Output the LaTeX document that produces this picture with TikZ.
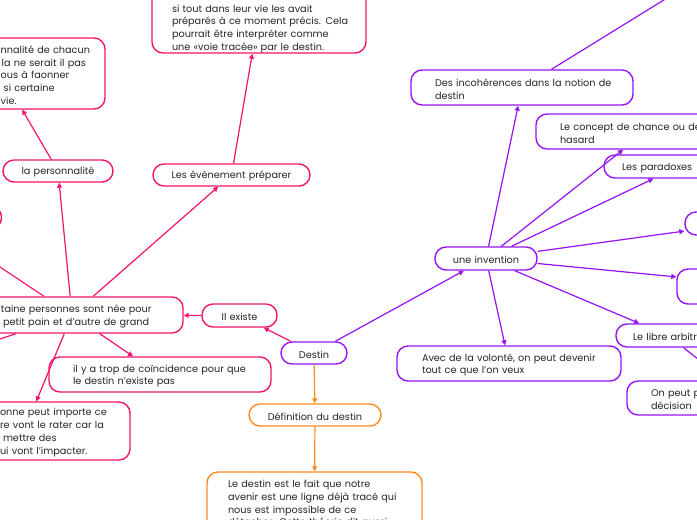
\documentclass[tikz,border=0pt]{standalone}
\usepackage{fontspec}
\setmainfont{Poppins}
\usetikzlibrary{arrows.meta}
\definecolor{mmpink}{RGB}{245,20,110}
\definecolor{mmpurple}{RGB}{150,20,245}
\definecolor{mmorange}{RGB}{255,138,30}
\newcommand{\mmbox}[8]{%
  \pgfmathsetmacro{\mmW}{#5-(#3)}%
  \pgfmathsetmacro{\mmH}{#6-(#4)}%
  \pgfmathsetmacro{\mmTW}{max(0.5,#3+#5-2*(#7))}%
  \pgfmathsetmacro{\mmX}{(#3+#5)/2}%
  \pgfmathsetmacro{\mmY}{(#4+#6)/2}%
  \node[mmnode, minimum width=\mmW pt, minimum height=\mmH pt, text width=\mmTW pt, #1] (#2) at (\mmX,\mmY) {\rule{0pt}{10.5pt}#8};%
}
\begin{document}
\begin{tikzpicture}[x=1pt,y=-1pt,
  mmnode/.style={draw, fill=white, line width=1.4pt, rounded corners=11pt,
    inner xsep=0pt, inner ysep=0pt, align=left, text=black!85,
    font=\fontsize{9.7}{12.7}\selectfont},
  pinkn/.style={draw=mmpink},
  purplen/.style={draw=mmpurple},
  orangen/.style={draw=mmorange},
  conn/.style={line width=1.2pt, -{Triangle[length=5pt,width=5pt]}},
  pinkc/.style={conn, draw=mmpink, fill=mmpink},
  purplec/.style={conn, draw=mmpurple, fill=mmpurple},
  orangec/.style={conn, draw=mmorange, fill=mmorange}]
\fill[white] (0,0) rectangle (697,520);
\useasboundingbox (0,0) rectangle (697,520);
\clip (0,0) rectangle (697,520);

% pink branch
\mmbox{pinkn}{tl}{-103}{38}{105}{109}{1}{\mbox{nnalité de chacun}\\\mbox{\hspace*{1pt}la ne serait il pas}\\\mbox{ous à faonner}\\\mbox{\hspace*{3pt}si certaine}\\\mbox{vie.}}
\mmbox{pinkn,align=center}{pers}{3}{160}{113}{182}{3}{la personnalité}
\mmbox{pinkn,align=center}{evt}{153}{164}{310}{186}{153}{Les événement préparer}
\mmbox{pinkn}{tc}{152}{-24}{366}{53}{172}{\mbox{}\\\mbox{}\\\mbox{si tout dans leur vie les avait}\\\mbox{préparés à ce moment précis. Cela}\\\mbox{pourrait être interpréter comme}\\\mbox{une «voie tracée» par le destin.}}
\mmbox{pinkn}{big}{-39}{297}{183}{333}{1}{\mbox{taine personnes sont née pour}\\\mbox{\hspace*{2pt}petit pain et d’autre de grand}}
\mmbox{pinkn,align=center}{ilex}{202}{304}{277}{327}{202}{Il existe}
\mmbox{pinkn}{coinc}{49}{357}{271}{392}{73}{\mbox{il y a trop de coïncidence pour que}\\\mbox{le destin n’existe pas}}
\mmbox{pinkn}{bl}{-82}{402}{130}{460}{0}{\mbox{onne peut importe ce}\\\mbox{re vont le rater car la}\\\mbox{\hspace*{3pt}mettre des}\\\mbox{ui vont l’impacter.}}
\mmbox{pinkn}{lp}{-40}{206}{1.5}{229}{-40}{}

% purple branch
\mmbox{purplen,align=center}{destin}{281}{342}{347}{364}{281}{Destin}
\mmbox{purplen,align=center}{inv}{435}{247}{537}{270}{435}{une invention}
\mmbox{purplen}{incoh}{411}{70}{633}{105}{435}{\mbox{Des incohérences dans la notion de}\\\mbox{destin}}
\mmbox{purplen}{chance}{536}{114}{756}{149}{560}{\mbox{Le concept de chance ou de}\\\mbox{hasard}}
\mmbox{purplen}{parad}{604}{155}{754}{178}{622}{\mbox{Les paradoxes}}
\mmbox{purplen}{nA}{685}{212}{793}{235}{700}{}
\mmbox{purplen}{nB}{677}{269}{875}{304}{700}{}
\mmbox{purplen}{libre}{616}{324}{720}{347}{633}{\mbox{Le libre arbitre}}
\mmbox{purplen}{vol}{397}{346}{621}{381}{422}{\mbox{Avec de la volonté, on peut devenir}\\\mbox{tout ce que l’on veux}}
\mmbox{purplen}{onpeut}{627}{381}{790}{415}{651}{\mbox{On peut prendre}\\\mbox{décision}}

% orange branch
\mmbox{orangen,align=center}{def}{249}{404}{381}{426}{249}{Définition du destin}
\mmbox{orangen}{ldest}{207}{472}{422}{531}{228}{\mbox{Le destin est le fait que notre}\\\mbox{avenir est une ligne déjà tracé qui}\\\mbox{nous est impossible de ce}\\\mbox{détacher. Cette théorie dit aussi}}

\coordinate (offA) at (740,-47);
\coordinate (offB) at (740,392);
\coordinate (offC) at (-60,227);
\coordinate (offD) at (-60,359);

% connectors
\draw[pinkc] (destin) -- (ilex);
\draw[pinkc] (ilex) -- (big);
\draw[pinkc] (big) -- (evt);
\draw[pinkc] (big) -- (pers);
\draw[pinkc] (pers) -- (tl);
\draw[pinkc] (evt) -- (tc);
\draw[pinkc] (big) -- (coinc);
\draw[pinkc] (big) -- (bl);
\draw[pinkc] (big) -- (offC);
\draw[pinkc] (big) -- (offD);

\draw[purplec] (destin) -- (inv);
\draw[purplec] (inv) -- (incoh);
\draw[purplec] (incoh) -- (offA);
\draw[purplec] (inv) -- (chance);
\draw[purplec] (inv) -- (parad);
\draw[purplec] (inv) -- (nA);
\draw[purplec] (inv) -- (nB);
\draw[purplec] (inv) -- (libre);
\draw[purplec] (inv) -- (vol);
\draw[purplec] (libre) -- (offB);

\draw[orangec] (destin) -- (def);
\draw[orangec] (def) -- (ldest);
\end{tikzpicture}
\end{document}
